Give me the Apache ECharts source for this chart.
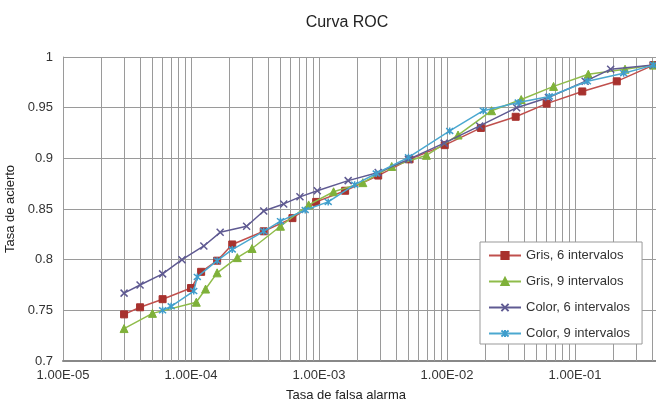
<!DOCTYPE html>
<html>
<head>
<meta charset="utf-8">
<script src="https://cdn.jsdelivr.net/npm/echarts@6/dist/echarts.min.js"></script>
<style>
html,body{margin:0;padding:0;background:#fff;}
#chart{width:656px;height:404px;}
</style>
</head>
<body>
<div id="chart"></div>
<script>
const seriesNames = ['Gris, 6 intervalos', 'Gris, 9 intervalos', 'Color, 6 intervalos', 'Color, 9 intervalos'];

const gris6X = [3e-5, 4e-5, 6e-5, 1e-4, 1.2e-4, 1.6e-4, 2.1e-4, 3.7e-4, 6.2e-4, 9.5e-4, 1.6e-3, 2.9e-3, 5.1e-3, 9.6e-3, 1.84e-2, 3.44e-2, 6.0e-2, 0.114, 0.212, 0.41];
const gris6Y = [0.746, 0.753, 0.761, 0.772, 0.788, 0.799, 0.815, 0.828, 0.841, 0.857, 0.868, 0.883, 0.899, 0.913, 0.930, 0.941, 0.954, 0.966, 0.976, 0.992];

const gris9X = [3e-5, 5e-5, 1.1e-4, 1.3e-4, 1.6e-4, 2.3e-4, 3.0e-4, 5.0e-4, 8.3e-4, 1.3e-3, 2.2e-3, 3.7e-3, 6.9e-3, 1.22e-2, 2.23e-2, 3.8e-2, 6.8e-2, 0.127, 0.246, 0.41];
const gris9Y = [0.732, 0.747, 0.758, 0.771, 0.787, 0.802, 0.811, 0.833, 0.854, 0.867, 0.876, 0.892, 0.903, 0.923, 0.947, 0.958, 0.971, 0.983, 0.988, 0.992];

const color6X = [3e-5, 4e-5, 6e-5, 8.5e-5, 1.26e-4, 1.69e-4, 2.72e-4, 3.7e-4, 5.3e-4, 7.1e-4, 9.7e-4, 1.69e-3, 2.9e-3, 5.0e-3, 9.5e-3, 1.8e-2, 3.5e-2, 6.2e-2, 0.12, 0.19, 0.41];
const color6Y = [0.767, 0.775, 0.786, 0.800, 0.8135, 0.827, 0.833, 0.848, 0.855, 0.862, 0.868, 0.878, 0.886, 0.899, 0.915, 0.932, 0.950, 0.960, 0.976, 0.988, 0.992];

const color9X = [6e-5, 7e-5, 1.05e-4, 1.12e-4, 1.6e-4, 2.1e-4, 3.7e-4, 5.0e-4, 7.8e-4, 1.18e-3, 1.9e-3, 2.8e-3, 5.0e-3, 1.05e-2, 1.92e-2, 3.6e-2, 6.3e-2, 0.125, 0.24, 0.41];
const color9Y = [0.750, 0.754, 0.769, 0.783, 0.799, 0.810, 0.828, 0.838, 0.849, 0.857, 0.874, 0.885, 0.901, 0.927, 0.947, 0.955, 0.961, 0.976, 0.984, 0.992];

const xMin = 1e-5, xMax = 1;
const yMin = 0.7, yMax = 1, yStep = 0.05;
const decades = [1e-5, 1e-4, 1e-3, 1e-2, 1e-1];
const minorMultipliers = [2, 3, 4, 5, 6, 7, 8, 9];

const minorGrid = [];
decades.forEach(d => minorMultipliers.forEach(m => minorGrid.push(d * m)));

function pairs(xs, ys) { return xs.map((x, i) => [x, ys[i]]); }

function fmtX(v) {
  const lg = Math.log10(v);
  const e = Math.round(lg);
  if (Math.abs(lg - e) > 1e-6) return '';
  const sign = e < 0 ? '-' : '+';
  return '1.00E' + sign + String(Math.abs(e)).padStart(2, '0');
}

const FONT = 'Liberation Sans, Arial, sans-serif';
const GRID = '#9a9a9a';

const chart = echarts.init(document.getElementById('chart'), null, {renderer: 'canvas'});
const option = {
  animation: false,
  backgroundColor: '#fff',
  title: {
    text: 'Curva ROC', left: 342, top: 10, textAlign: 'center',
    textStyle: {fontFamily: FONT, fontSize: 16, fontWeight: 'normal', color: '#222'}
  },
  grid: {left: 63, top: 57, width: 640, height: 304, containLabel: false, outerBoundsMode: 'none'},
  legend: {
    orient: 'vertical', left: 480, top: 242,
    itemWidth: 32, itemHeight: 9, itemGap: 13,
    padding: [7, 12, 4, 8],
    backgroundColor: '#fff', borderColor: '#999', borderWidth: 1,
    textStyle: {fontFamily: FONT, fontSize: 13, color: '#333'},
    data: seriesNames
  },
  xAxis: {
    type: 'log', logBase: 10, min: xMin, max: xMax,
    name: 'Tasa de falsa alarma', nameLocation: 'middle', nameGap: 28,
    nameTextStyle: {fontFamily: FONT, fontSize: 13, color: '#222', padding: [0, 74, 0, 0]},
    axisLine: {show: true, lineStyle: {color: '#888', width: 2}},
    axisTick: {show: false},
    axisLabel: {fontFamily: FONT, fontSize: 13, color: '#333', margin: 8, formatter: fmtX, showMaxLabel: true},
    splitLine: {show: true, lineStyle: {color: GRID, width: 1}}
  },
  yAxis: {
    type: 'value', min: yMin, max: yMax, interval: yStep,
    name: 'Tasa de acierto', nameLocation: 'middle', nameGap: 45,
    nameTextStyle: {fontFamily: FONT, fontSize: 13, color: '#222'},
    axisLine: {show: true, lineStyle: {color: GRID, width: 1}},
    axisTick: {show: false},
    axisLabel: {fontFamily: FONT, fontSize: 13, color: '#333', margin: 10},
    splitLine: {show: true, lineStyle: {color: GRID, width: 1}}
  },
  series: [
    {
      name: '__minorGrid', type: 'lines', coordinateSystem: 'cartesian2d',
      silent: true, z: 1, polyline: false,
      lineStyle: {color: GRID, width: 1, opacity: 1, curveness: 0},
      effect: {show: false},
      data: minorGrid.map(v => ({coords: [[v, yMin], [v, yMax]]}))
    },
    {
      name: seriesNames[0], type: 'line', data: pairs(gris6X, gris6Y), z: 3,
      symbol: 'rect', symbolSize: 7,
      lineStyle: {color: '#c0504d', width: 1.5},
      itemStyle: {color: '#a8322e', borderColor: '#a8322e', borderWidth: 1}
    },
    {
      name: seriesNames[1], type: 'line', data: pairs(gris9X, gris9Y), z: 4,
      symbol: 'triangle', symbolSize: 8,
      lineStyle: {color: '#8fbc4a', width: 1.5},
      itemStyle: {color: '#7fb13a', borderColor: '#7fb13a', borderWidth: 1}
    },
    {
      name: seriesNames[2], type: 'line', data: pairs(color6X, color6Y), z: 5,
      symbol: 'path://M0,0L10,10M10,0L0,10', symbolSize: 7,
      lineStyle: {color: '#5f5a92', width: 1.5},
      itemStyle: {color: '#5f5a92', borderColor: '#5f5a92', borderWidth: 1.5}
    },
    {
      name: seriesNames[3], type: 'line', data: pairs(color9X, color9Y), z: 6,
      symbol: 'path://M0,0L10,10M10,0L0,10M5,-1L5,11', symbolSize: 7,
      lineStyle: {color: '#4ba8d0', width: 1.5},
      itemStyle: {color: '#3f9dcc', borderColor: '#3f9dcc', borderWidth: 1.5}
    }
  ]
};
chart.setOption(option);
</script>
</body>
</html>
